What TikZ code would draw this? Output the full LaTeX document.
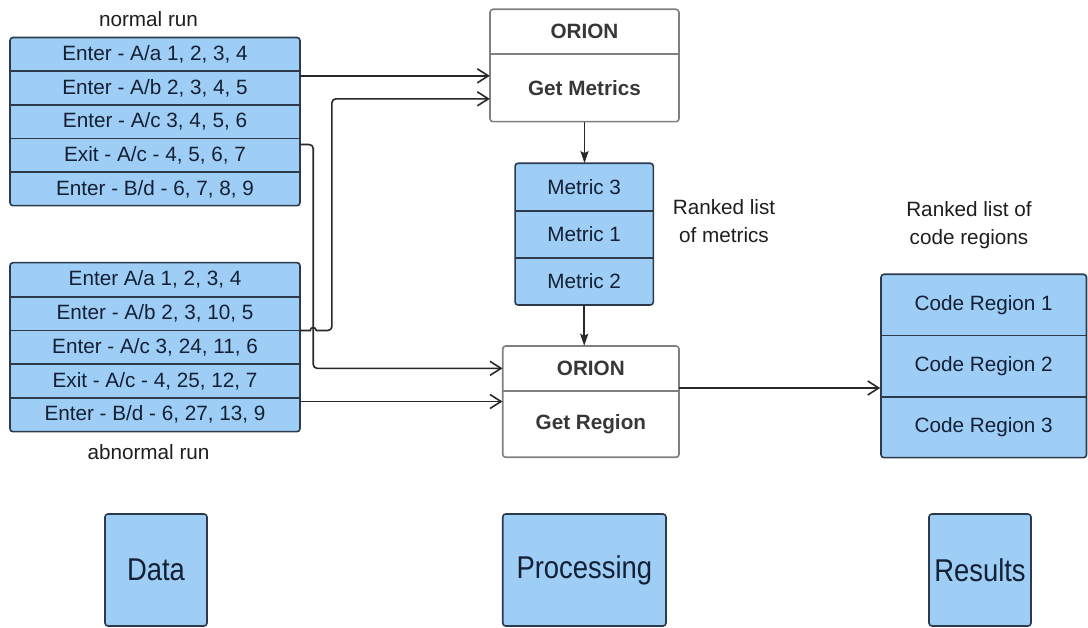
\documentclass[tikz,border=0pt]{standalone}
\usepackage{fontspec}
\setmainfont{Liberation Sans}
\newfontfamily\narrowsans[FakeStretch=0.87]{Liberation Sans}
\usetikzlibrary{arrows.meta,calc}
\definecolor{cellblue}{RGB}{158,205,245}
\definecolor{frame}{RGB}{44,58,76}
\definecolor{ink}{RGB}{20,32,52}
\definecolor{greyframe}{RGB}{128,128,128}
\definecolor{wirecol}{RGB}{40,40,40}
\definecolor{labelcol}{RGB}{30,30,30}
\definecolor{headtxt}{RGB}{55,55,55}
\begin{document}
\begin{tikzpicture}[x=1pt,y=-1pt,
  font=\fontsize{20.7}{28}\selectfont,
  panel/.style={draw=frame, fill=cellblue, line width=1.6pt, rounded corners=3pt, inner sep=0pt},
  whitepanel/.style={draw=greyframe, fill=white, line width=1.6pt, rounded corners=3pt, inner sep=0pt},
  cell/.style={text=ink, inner sep=0pt},
  headcell/.style={text=headtxt, font=\bfseries\fontsize{20.7}{28}\selectfont, inner sep=0pt},
  divider/.style={draw=frame, line width=1.7pt},
  greydivider/.style={draw=greyframe, line width=1.6pt},
  lbl/.style={text=labelcol, inner sep=0pt, align=center},
  bigpanel/.style={panel, text=ink, font=\narrowsans\fontsize{31.5}{36}\selectfont},
  wire/.style={draw=wirecol, line width=1.6pt},
  openarrow/.style={wire, -{Straight Barb[length=11pt,width=14pt]}},
  solidarrow/.style={wire, -{Stealth[length=12pt,width=8pt,inset=2pt]}}
]
\useasboundingbox (0,0) rectangle (1088,628);

% ---------- normal run table ----------
\node[panel, minimum width=290pt, minimum height=168.2pt] (ntab) at (155,121.6) {};
\begin{scope}[every node/.style={cell, minimum width=290pt, minimum height=33.64pt}]
  \node (nrow1) at (155,54.32)  {Enter - A/a 1, 2, 3, 4};
  \node (nrow2) at (155,87.96)  {Enter - A/b 2, 3, 4, 5};
  \node (nrow3) at (155,121.6)  {Enter - A/c 3, 4, 5, 6};
  \node (nrow4) at (155,155.24) {Exit - A/c - 4, 5, 6, 7};
  \node (nrow5) at (155,188.88) {Enter - B/d - 6, 7, 8, 9};
\end{scope}
\foreach \r in {1,...,4} \draw[divider] (nrow\r.south west) -- (nrow\r.south east);
\node[lbl] (lnormal) at (148.5,19.5) {normal run};

% ---------- abnormal run table ----------
\node[panel, minimum width=290pt, minimum height=169pt] (atab) at (155,347.2) {};
\begin{scope}[every node/.style={cell, minimum width=290pt, minimum height=33.8pt}]
  \node (arow1) at (155,279.6) {Enter A/a 1, 2, 3, 4};
  \node (arow2) at (155,313.4) {Enter - A/b 2, 3, 10, 5};
  \node (arow3) at (155,347.2) {Enter - A/c 3, 24, 11, 6};
  \node (arow4) at (155,381.0) {Exit - A/c - 4, 25, 12, 7};
  \node (arow5) at (155,414.8) {Enter - B/d - 6, 27, 13, 9};
\end{scope}
\foreach \r in {1,...,4} \draw[divider] (arow\r.south west) -- (arow\r.south east);
\node[lbl] (labnormal) at (148.5,451.7) {abnormal run};

% ---------- ORION: metrics ----------
\node[whitepanel, minimum width=189pt, minimum height=112.4pt] (orion1) at (584.5,65.5) {};
\node[headcell, minimum width=189pt, minimum height=44.7pt] (orhead1) at (584.5,31.65) {ORION};
\node[headcell, minimum width=189pt, minimum height=67.7pt] (getm) at (584.5,87.85) {Get Metrics};
\draw[greydivider] (orhead1.south west) -- (orhead1.south east);

% ---------- ranked metrics ----------
\node[panel, minimum width=138.3pt, minimum height=141.7pt] (mettab) at (584.2,234.15) {};
\begin{scope}[every node/.style={cell, minimum width=138.3pt, minimum height=47.23pt}]
  \node (met3) at (584.2,186.92) {Metric 3};
  \node (met1) at (584.2,234.15) {Metric 1};
  \node (met2) at (584.2,281.38) {Metric 2};
\end{scope}
\draw[divider] (met3.south west) -- (met3.south east);
\draw[divider] (met1.south west) -- (met1.south east);
\node[lbl] (lmetrics) at (724,221) {Ranked list\\of metrics};

% ---------- ORION: regions ----------
\node[whitepanel, minimum width=176.3pt, minimum height=111.3pt] (orion2) at (590.85,401.65) {};
\node[headcell, minimum width=176.3pt, minimum height=44.7pt] (orhead2) at (590.85,368.35) {ORION};
\node[headcell, minimum width=176.3pt, minimum height=66.6pt] (getr) at (590.85,424) {Get Region};
\draw[greydivider] (orhead2.south west) -- (orhead2.south east);

% ---------- ranked code regions ----------
\node[panel, minimum width=205.5pt, minimum height=183.4pt] (crtab) at (983.75,366) {};
\begin{scope}[every node/.style={cell, minimum width=205.5pt, minimum height=61.13pt}]
  \node (cr1) at (983.75,304.87) {Code Region 1};
  \node (cr2) at (983.75,366)    {Code Region 2};
  \node (cr3) at (983.75,427.13) {Code Region 3};
\end{scope}
\draw[divider] (cr1.south west) -- (cr1.south east);
\draw[divider] (cr2.south west) -- (cr2.south east);
\node[lbl] (lregions) at (969,225.5) {Ranked list of\\code regions};

% ---------- stage boxes ----------
\node[bigpanel, minimum width=102pt, minimum height=112pt] (data) at (156,570) {Data};
\node[bigpanel, minimum width=163.3pt, minimum height=112pt] (proc) at (584.35,570) {Processing};
\node[bigpanel, minimum width=102pt, minimum height=112pt] (res) at (980,570) {Results};

% ---------- connectors ----------
\coordinate (inM1) at ($(getm.west)+(0,-12)$);
\coordinate (inM2) at ($(getm.west)+(0,11)$);
\coordinate (inR2) at ($(getr.north west)+(0,11)$);
\coordinate (outR) at ($(getr.north east)+(0,-2.5)$);

\draw[openarrow] (inM1 -| nrow2.east) -- (inM1);
\draw[wire] (arow2.south east) -- ++(10,0)
  arc[start angle=180, end angle=360, radius=3] coordinate (hopend);
\draw[openarrow, rounded corners=4pt] (hopend) -- ++(15.7,0) |- (inM2);
\draw[openarrow, rounded corners=4pt] ($(nrow4.north east)+(0,6.3)$) -- ++(13,0) |- (orhead2.west);
\draw[openarrow] (inR2 -| arow5.east) -- (inR2);
\draw[solidarrow] (getm.south) -- (getm.south |- met3.north);
\draw[solidarrow] (met2.south) -- (met2.south |- orhead2.north);
\draw[openarrow] (outR) -- (outR -| crtab.west);
\end{tikzpicture}
\end{document}
